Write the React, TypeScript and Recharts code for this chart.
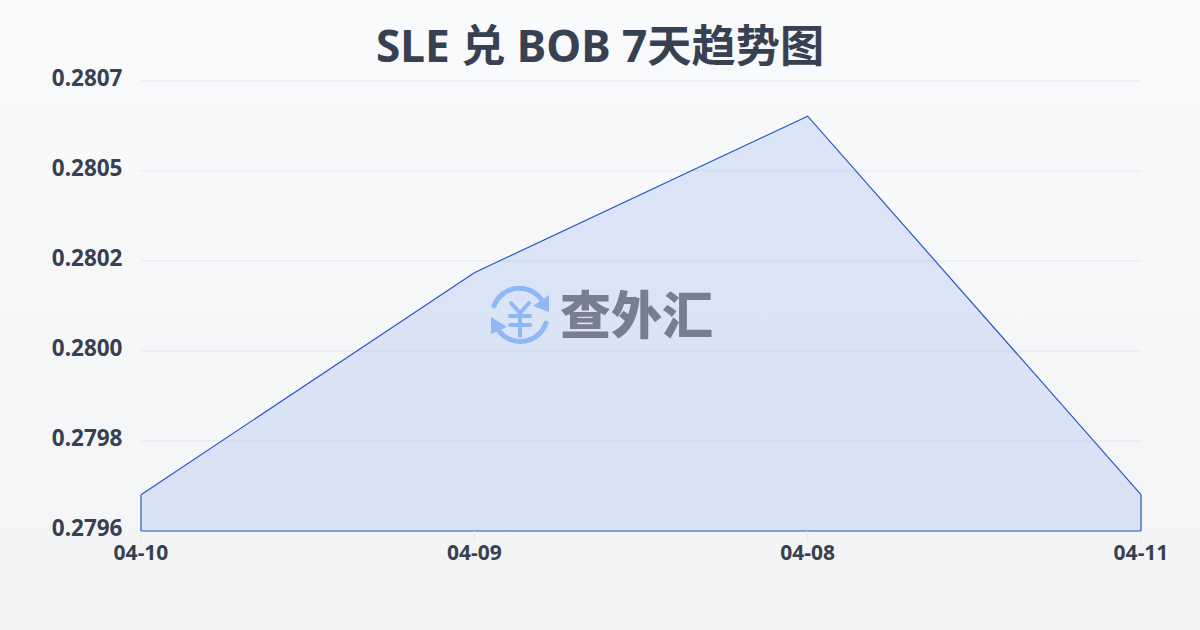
import { Area, AreaChart, CartesianGrid, ReferenceLine, XAxis, YAxis } from "recharts";

const dates = ["04-10", "04-09", "04-08", "04-11"];
const rates = [0.27966, 0.28021, 0.280598, 0.27966];
const yTicks = [0.27957, 0.279793, 0.280016, 0.280239, 0.280462, 0.280685];

const data = dates.map((date, i) => ({ date, rate: rates[i] }));
const yMin = yTicks[0];
const yMax = yTicks[yTicks.length - 1];

const FONT = '"Noto Sans", "Noto Sans CJK SC", sans-serif';
const TEXT = "#374151";
const LINE = "#2459c8";

function Watermark() {
  return (
    <svg
      width={1200}
      height={630}
      style={{ position: "absolute", left: 0, top: 0, pointerEvents: "none" }}
    >
      <g fill="none" stroke="#8fb8f6" strokeWidth={5} strokeLinecap="round">
        <path d="M494 306 A27 27 0 0 1 541 299" />
        <path d="M546 323 A27 27 0 0 1 499 331" />
        <path d="M511 303 L520 313 L529 303 M510 316 H530 M510 325 H530 M520 313 V336" strokeWidth={4} />
      </g>
      <path d="M549 295 L549 312 L533 306 Z" fill="#8fb8f6" />
      <path d="M491 317 L491 334 L507 327 Z" fill="#8fb8f6" />
      <text
        x={560}
        y={334}
        fontFamily='"Noto Sans CJK SC", sans-serif'
        fontWeight={900}
        fontSize={51}
        fill="#767e8f"
      >
        查外汇
      </text>
    </svg>
  );
}

export default function App() {
  return (
    <div
      style={{
        position: "fixed",
        left: 0,
        top: 0,
        width: 1200,
        height: 630,
        background: "linear-gradient(180deg, #f8fafc 0%, #f3f4f6 100%)",
        fontFamily: FONT,
      }}
    >
      <div
        style={{
          position: "absolute",
          left: 0,
          top: 15,
          width: 1200,
          textAlign: "center",
          fontSize: 44.2,
          fontWeight: 700,
          lineHeight: "60px",
          color: TEXT,
        }}
      >
        SLE 兑 BOB 7天趋势图
      </div>
      <div style={{ position: "absolute", left: 0.5, top: 0.5 }}>
        <AreaChart
          width={1200}
          height={630}
          data={data}
          margin={{ top: 80, right: 60, left: 0, bottom: 0 }}
        >
          <CartesianGrid vertical={false} stroke="#e5e7eb" />
          <XAxis
            dataKey="date"
            axisLine={false}
            tickLine={{ stroke: "#e5e7eb" }}
            tickSize={10}
            tickMargin={4}
            height={100}
            interval={0}
            tick={{ fontSize: 21, fontWeight: 700, fill: TEXT, fontFamily: FONT }}
          />
          <YAxis
            type="number"
            domain={[yMin, yMax]}
            ticks={yTicks}
            width={140}
            axisLine={false}
            tickLine={false}
            tickMargin={12.5}
            dy={-3}
            tickFormatter={(v: number) => v.toFixed(4)}
            tick={{ fontSize: 22.5, fontWeight: 700, fill: TEXT, fontFamily: FONT }}
          />
          <Area
            type="linear"
            dataKey="rate"
            stroke={LINE}
            strokeWidth={1.2}
            fill="#2563eb"
            fillOpacity={0.13}
            dot={false}
            activeDot={false}
            isAnimationActive={false}
          />
          <ReferenceLine y={yMin} stroke={LINE} strokeWidth={1.2} ifOverflow="visible" />
          <ReferenceLine
            segment={[
              { x: dates[0], y: yMin },
              { x: dates[0], y: rates[0] },
            ]}
            stroke={LINE}
            strokeWidth={1.2}
            ifOverflow="visible"
          />
          <ReferenceLine
            segment={[
              { x: dates[3], y: yMin },
              { x: dates[3], y: rates[3] },
            ]}
            stroke={LINE}
            strokeWidth={1.2}
            ifOverflow="visible"
          />
        </AreaChart>
      </div>
      <Watermark />
    </div>
  );
}
